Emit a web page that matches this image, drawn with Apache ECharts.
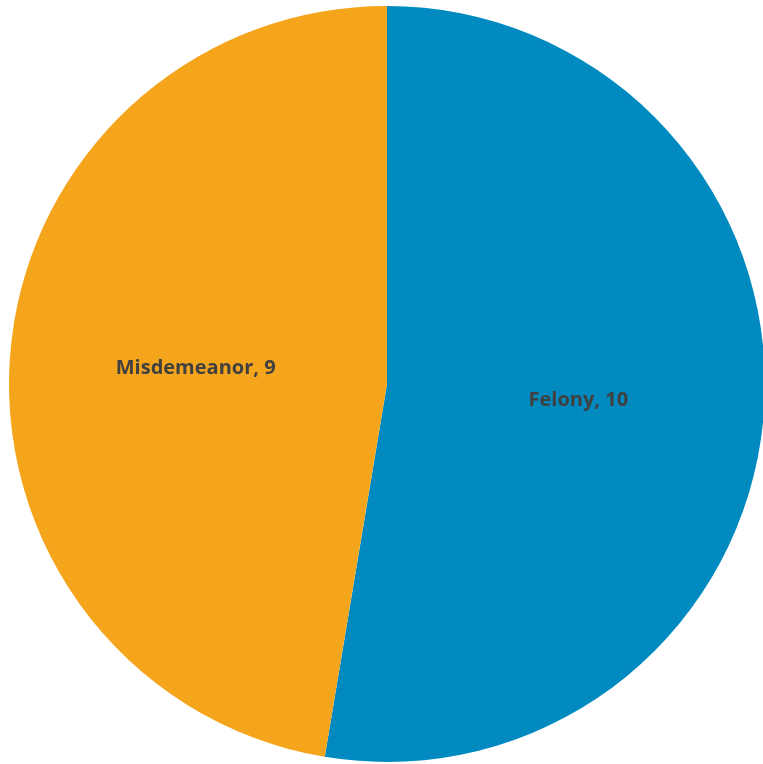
<!DOCTYPE html>
<html>
<head>
<meta charset="utf-8">
<script src="https://cdn.jsdelivr.net/npm/echarts@6/dist/echarts.min.js"></script>
<style>html,body{margin:0;padding:0;background:#fff;}#c{width:763px;height:764px;}</style>
</head>
<body>
<div id="c"></div>
<script>
const categories = ['Felony', 'Misdemeanor'];
const values = [10, 9];
const colors = ['#008AC0', '#F5A51C'];

const chart = echarts.init(document.getElementById('c'), null, {renderer: 'canvas'});
chart.setOption({
  animation: false,
  series: [{
    type: 'pie',
    center: [387, 384],
    radius: 378,
    startAngle: 90,
    clockwise: true,
    data: categories.map((n, i) => ({name: n, value: values[i], itemStyle: {color: colors[i]}})),
    label: {
      position: 'inside',
      formatter: '{b}, {c}',
      color: '#404040',
      fontWeight: 'bold',
      fontSize: 20,
      fontFamily: 'Open Sans'
    },
    labelLine: {show: false},
    itemStyle: {borderWidth: 0}
  }]
});
</script>
</body>
</html>
